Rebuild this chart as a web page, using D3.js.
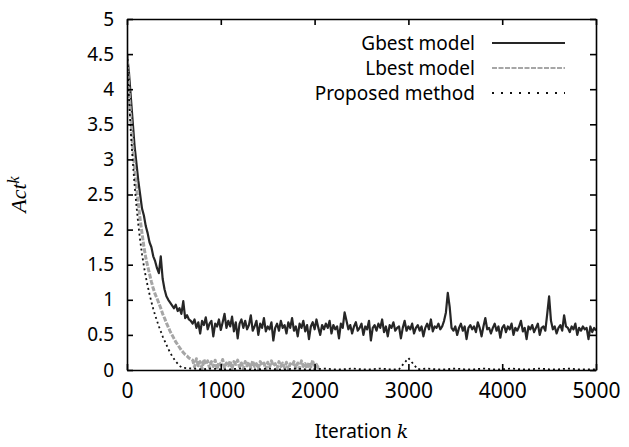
<!DOCTYPE html>
<html>
<head>
<meta charset="utf-8">
<script src="https://cdn.jsdelivr.net/npm/d3@7"></script>
<style>
  body { margin: 0; background: #fff; }
  .axis text { font-family: "Noto Sans", "Open Sans", sans-serif; font-size: 19px; fill: #000; }
  .axis.xb text { font-size: 21px; }
  .axis path, .axis line { stroke: #000; stroke-width: 1.6; }
</style>
</head>
<body>
<div id="chart"></div>
<script>
// iteration step of the sampled series
let step = 20

// Gbest model, k = 0, 20, ..., 5000
let gbest = [
  4.5, 4.25, 3.9, 3.55, 3.2, 2.95, 2.7, 2.5, 2.3, 2.2,
  2.05, 1.95, 1.82, 1.75, 1.62, 1.55, 1.45, 1.38, 1.62, 1.3,
  1.15, 1.05, 1.0, 0.96, 0.92, 0.88, 0.93, 0.84, 0.88, 0.8,
  0.98, 0.74, 0.78, 0.72, 0.7,
  0.66, 0.72, 0.6, 0.68, 0.52, 0.7, 0.64, 0.75, 0.58, 0.66,
  0.7, 0.48, 0.66, 0.62, 0.72, 0.57, 0.68, 0.8, 0.6, 0.7,
  0.62, 0.76, 0.55, 0.68, 0.45, 0.66, 0.72, 0.6, 0.7, 0.58,
  0.64, 0.78, 0.56, 0.62, 0.7, 0.5, 0.66, 0.6, 0.74, 0.55,
  0.62, 0.58, 0.68, 0.42, 0.6, 0.66, 0.56, 0.7, 0.6, 0.64,
  0.52, 0.68, 0.6, 0.74, 0.56, 0.62, 0.48, 0.66, 0.6, 0.7,
  0.55, 0.64, 0.44, 0.62, 0.68, 0.58, 0.72, 0.6, 0.5, 0.64,
  0.58, 0.66, 0.6, 0.7, 0.52, 0.64, 0.58, 0.62, 0.45, 0.66,
  0.6, 0.82, 0.7, 0.58, 0.64, 0.52, 0.62, 0.68, 0.56, 0.6,
  0.66, 0.5, 0.62, 0.58, 0.7, 0.42, 0.6, 0.64, 0.56, 0.66,
  0.6, 0.72, 0.54, 0.62, 0.48, 0.64, 0.6, 0.68, 0.56, 0.6,
  0.62, 0.45, 0.6, 0.7, 0.56, 0.62, 0.58, 0.66, 0.52, 0.6,
  0.64, 0.56, 0.62, 0.48, 0.6, 0.66, 0.58, 0.72, 0.55, 0.62,
  0.6, 0.66, 0.58, 0.62, 0.7, 0.82, 1.1, 0.9, 0.6, 0.56,
  0.62, 0.5, 0.6, 0.66, 0.56, 0.62, 0.44, 0.6, 0.64, 0.58,
  0.62, 0.54, 0.68, 0.6, 0.48, 0.62, 0.74, 0.58, 0.6, 0.52,
  0.6, 0.66, 0.56, 0.62, 0.46, 0.6, 0.64, 0.54, 0.62, 0.58,
  0.66, 0.5, 0.6, 0.56, 0.62, 0.7, 0.55, 0.6, 0.44, 0.62,
  0.58, 0.64, 0.54, 0.6, 0.66, 0.5, 0.6, 0.62, 0.56, 0.8,
  1.05, 0.7, 0.58, 0.62, 0.52, 0.6, 0.64, 0.56, 0.78, 0.62,
  0.6, 0.54, 0.62, 0.58, 0.66, 0.5, 0.6, 0.56, 0.62, 0.58,
  0.6, 0.44, 0.62, 0.54, 0.6, 0.56
]

// Lbest model, k = 0, 20, ..., 2060
let lbest = [
  4.5, 4.0, 3.6, 3.2, 2.9, 2.62, 2.38, 2.15, 1.95, 1.76,
  1.6, 1.48, 1.37, 1.26, 1.16, 1.08, 1.02, 0.95, 0.88, 0.8,
  0.74, 0.67, 0.61, 0.55, 0.5, 0.45, 0.4, 0.36, 0.32, 0.28,
  0.25, 0.22, 0.2, 0.17, 0.16,
  0.14, 0.04, 0.16, 0.06, 0.12, 0.02, 0.15, 0.08, 0.13, 0.03,
  0.12, 0.05, 0.14, 0.01, 0.11, 0.07, 0.15, 0.03, 0.1, 0.06,
  0.13, 0.02, 0.12, 0.08, 0.14, 0.04, 0.1, 0.01, 0.12, 0.06,
  0.11, 0.03, 0.13, 0.05, 0.09, 0.02, 0.12, 0.07, 0.1, 0.01,
  0.11, 0.04, 0.13, 0.06, 0.09, 0.02, 0.12, 0.05, 0.1, 0.03,
  0.11, 0.01, 0.09, 0.06, 0.12, 0.03, 0.1, 0.02, 0.13, 0.05,
  0.09, 0.02, 0.11, 0.04, 0.14, 0.01, 0.08, 0.03, 0.02
]

// Proposed method: k = 0..600 every 20, then k = 700..5000 every 100
let proposedHead = [
  4.5, 3.9, 3.4, 3.0, 2.65, 2.35, 2.08, 1.85, 1.65, 1.48,
  1.33, 1.2, 1.08, 0.97, 0.87, 0.78, 0.7, 0.62, 0.55, 0.48,
  0.42, 0.36, 0.3, 0.25, 0.2, 0.16, 0.12, 0.09, 0.06, 0.04, 0.03
]
let tailStart = 700, tailStep = 100
let proposedTail = [
  0.02, 0.01, 0.02, 0.01, 0.01, 0.02, 0.01, 0.01, 0.02, 0.01,
  0.01, 0.02, 0.01, 0.01, 0.02, 0.01, 0.01, 0.02, 0.01, 0.01,
  0.02, 0.01, 0.01, 0.17, 0.01, 0.02, 0.01, 0.01, 0.02, 0.01,
  0.01, 0.02, 0.01, 0.01, 0.02, 0.01, 0.01, 0.02, 0.01, 0.01,
  0.02, 0.01, 0.01, 0.01
]

let xTicks = [0, 1000, 2000, 3000, 4000, 5000]
let yTicks = [0, 0.5, 1, 1.5, 2, 2.5, 3, 3.5, 4, 4.5, 5]
let legendNames = ["Gbest model", "Lbest model", "Proposed method"]

let margin = {top: 19, right: 33, bottom: 77, left: 127},
    width = 629 - margin.left - margin.right,
    height = 447 - margin.top - margin.bottom;

let x = d3.scaleLinear().domain([0, 5000]).range([0, width]);
let y = d3.scaleLinear().domain([0, 5]).range([height, 0]);

let toPts = (arr) => arr.map((v, i) => ({k: i * step, v: v}))
let proposed = toPts(proposedHead).concat(
  proposedTail.map((v, i) => ({k: tailStart + i * tailStep, v: v})))

let series = [
  {name: legendNames[0], data: toPts(gbest), color: "#262626", width: 2.2, dash: null},
  {name: legendNames[1], data: toPts(lbest), color: "#a6a6a6", width: 3, dash: "5,1.5"},
  {name: legendNames[2], data: proposed, color: "#111", width: 1.8, dash: "2,3"}
]

let line = d3.line()
    .x(d => x(d.k))
    .y(d => y(d.v));

let svg = d3.select('#chart').append('svg')
    .attr("width", 629)
    .attr("height", 447)
  .append("g")
    .attr("transform", "translate(" + margin.left + "," + margin.top + ")");

svg.append("defs").append("clipPath").attr("id", "clip")
  .append("rect").attr("width", width).attr("height", height);

series.forEach(s => {
  svg.append("path")
      .datum(s.data)
      .attr("clip-path", "url(#clip)")
      .attr("fill", "none")
      .attr("stroke", s.color)
      .attr("stroke-width", s.width)
      .attr("stroke-dasharray", s.dash)
      .attr("stroke-linejoin", "round")
      .attr("d", line);
})

// axes, ticks pointing inward on all four sides
let fmt = d => String(d)
svg.append("g").attr("class", "axis xb")
    .attr("transform", "translate(0," + height + ")")
    .call(d3.axisBottom(x).tickValues(xTicks).tickFormat(fmt).tickSize(-6).tickPadding(13).tickSizeOuter(0));
svg.append("g").attr("class", "axis")
    .call(d3.axisLeft(y).tickValues(yTicks).tickFormat(fmt).tickSize(-6).tickPadding(13).tickSizeOuter(0));
svg.append("g").attr("class", "axis")
    .call(d3.axisTop(x).tickValues(xTicks).tickSize(-6).tickFormat("").tickSizeOuter(0));
svg.append("g").attr("class", "axis")
    .attr("transform", "translate(" + width + ",0)")
    .call(d3.axisRight(y).tickValues(yTicks).tickSize(-6).tickFormat("").tickSizeOuter(0));

// legend
let legend = svg.append("g").attr("transform", "translate(" + (475 - margin.left) + ",0)")
series.forEach((s, i) => {
  let ly = 24 + i * 25
  legend.append("text")
      .attr("x", 0).attr("y", ly)
      .attr("dy", "0.35em")
      .attr("text-anchor", "end")
      .style("font-family", '"Noto Sans", "Open Sans", sans-serif')
      .style("font-size", "19px")
      .text(s.name);
  legend.append("line")
      .attr("x1", 17).attr("x2", 90)
      .attr("y1", ly).attr("y2", ly)
      .attr("stroke", s.color)
      .attr("stroke-width", Math.min(s.width, 2))
      .attr("stroke-dasharray", i == 2 ? "2,7" : s.dash);
})

// axis titles
let xt = svg.append("text")
    .attr("x", width / 2).attr("y", height + 68)
    .attr("text-anchor", "middle")
    .style("font-family", '"Noto Sans", "Open Sans", sans-serif')
    .style("font-size", "19px");
xt.append("tspan").text("Iteration ");
xt.append("tspan").style("font-family", '"DejaVu Serif", "Liberation Serif", serif')
    .style("font-style", "italic").text("k");

let yt = svg.append("text")
    .attr("transform", "translate(" + (26 - margin.left) + "," + (height / 2) + ") rotate(-90)")
    .attr("text-anchor", "middle")
    .style("font-family", '"Liberation Serif", "DejaVu Serif", serif')
    .style("font-style", "italic")
    .style("font-size", "22px");
yt.append("tspan").text("Act");
yt.append("tspan").attr("dy", "-0.45em").style("font-size", "16px").text("k");
</script>
</body>
</html>
